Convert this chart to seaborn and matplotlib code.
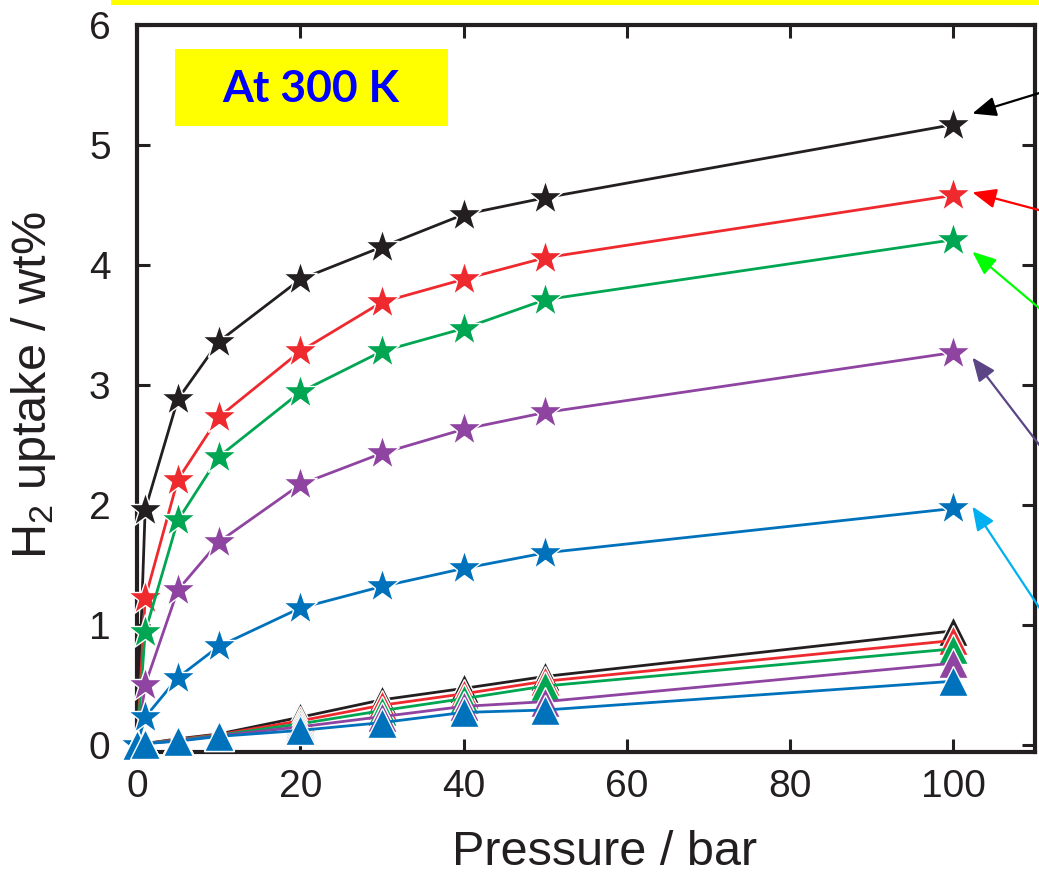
import matplotlib
matplotlib.use("Agg")
import matplotlib.pyplot as plt
import matplotlib.transforms as mtransforms
from matplotlib.patches import Rectangle
import seaborn as sns
import pandas as pd

# ---------------- data ----------------
pressure = [0, 1, 5, 10, 20, 30, 40, 50, 100]

star_black = [0, 1.96, 2.88, 3.36, 3.88, 4.15, 4.42, 4.56, 5.17]
star_red = [0, 1.22, 2.21, 2.73, 3.28, 3.69, 3.88, 4.06, 4.58]
star_green = [0, 0.94, 1.87, 2.40, 2.94, 3.28, 3.47, 3.71, 4.21]
star_purple = [0, 0.50, 1.29, 1.69, 2.17, 2.43, 2.63, 2.77, 3.27]
star_blue = [0, 0.23, 0.56, 0.82, 1.14, 1.32, 1.47, 1.60, 1.97]

tri_black = [0, 0.01, 0.05, 0.09, 0.23, 0.375, 0.47, 0.57, 0.95]
tri_red = [0, 0.01, 0.045, 0.085, 0.20, 0.33, 0.425, 0.53, 0.87]
tri_green = [0, 0.01, 0.04, 0.08, 0.175, 0.285, 0.385, 0.49, 0.80]
tri_purple = [0, 0.01, 0.035, 0.075, 0.15, 0.235, 0.32, 0.36, 0.68]
tri_blue = [0, 0.01, 0.03, 0.07, 0.12, 0.185, 0.27, 0.29, 0.53]

colors = ["#231f20", "#ee2a2e", "#00a651", "#8e44a0", "#0072bc"]
arrow_colors = ["#000000", "#ff0000", "#00ff00", "#5b4585", "#00b0f0"]

x_ticks = [0, 20, 40, 60, 80, 100]
y_ticks = [0, 1, 2, 3, 4, 5, 6]
x_label = "Pressure / bar"
y_label = "H$_2$ uptake / wt%"
box_text = "At 300 K"

# ---------------- style ----------------
sns.set_theme(style="ticks")
plt.rcParams["font.family"] = ["Liberation Sans", "DejaVu Sans"]
plt.rcParams["mathtext.default"] = "regular"

fig = plt.figure(figsize=(10.39, 8.76), dpi=100)
ax = fig.add_axes([137 / 1039, 1 - 752 / 876, (1035 - 137) / 1039, (752 - 25) / 876])

stars = [star_black, star_red, star_green, star_purple, star_blue]
tris = [tri_black, tri_red, tri_green, tri_purple, tri_blue]

for vals, c in zip(stars, colors):
    df = pd.DataFrame({"p": pressure, "u": vals})
    sns.lineplot(data=df, x="p", y="u", color=c, marker="*", markersize=26,
                 markeredgecolor="white", markeredgewidth=1.0, linewidth=2.0,
                 ax=ax, clip_on=False, zorder=3)

for vals, c in zip(tris, colors):
    df = pd.DataFrame({"p": pressure, "u": vals})
    sns.lineplot(data=df, x="p", y="u", color=c, marker="^", markersize=22,
                 markeredgecolor="white", markeredgewidth=1.0, linewidth=2.0,
                 ax=ax, clip_on=False, zorder=3)

ax.set_xlim(0, 110)
ax.set_ylim(-0.06, 6)
ax.set_xticks(x_ticks)
ax.set_yticks(y_ticks)
ax.tick_params(direction="in", length=9.5, width=2.2, top=True, right=True,
               labelsize=28, colors="#231f20", labelcolor="#231f20")
ax.tick_params(axis="y", pad=19)
ax.tick_params(axis="x", pad=12)
for s in ax.spines.values():
    s.set_linewidth(3)
    s.set_color("#231f20")
    s.set_zorder(2)

ax.set_xlabel(x_label, fontsize=35, color="#231f20")
ax.set_ylabel(y_label, fontsize=35, color="#231f20")
ax.xaxis.set_label_coords(0.521, -0.107)
ax.yaxis.set_label_coords(-0.088, 0.505)

# ---------------- annotations ----------------
# yellow strip at top of figure
fig.patches.append(Rectangle((111 / 1039, 1 - 5 / 876), 1 - 111 / 1039, 5 / 876,
                             transform=fig.transFigure, facecolor="#ffff00",
                             edgecolor="none", zorder=0))
# yellow title box
fig.patches.append(Rectangle((175 / 1039, 1 - 126 / 876), (448 - 175) / 1039, (126 - 49) / 876,
                             transform=fig.transFigure, facecolor="#ffff00",
                             edgecolor="none", zorder=1))
fig.text(311 / 1039, 1 - 89 / 876, box_text, ha="center", va="center",
         fontsize=32, fontweight="bold", color="#0000ff",
         family=["Lato", "Open Sans", "DejaVu Sans"])

# arrows pointing at the 100-bar stars
tip_offsets = [(19, 11), (19, 3), (19, -12), (19, -5), (19, 2)]
tail_px = [(1060, 86.7), (1060, 215.6), (1060, 325.6), (1060, 472), (1060, 639)]
for vals, c, off, tail in zip(stars, arrow_colors, tip_offsets, tail_px):
    tr = mtransforms.offset_copy(ax.transData, fig=fig, x=off[0], y=off[1], units="dots")
    ax.annotate("", xy=(pressure[-1], vals[-1]), xycoords=tr,
                xytext=(tail[0], 876 - tail[1]), textcoords="figure pixels",
                arrowprops=dict(arrowstyle="-|>,head_length=1.2,head_width=0.5",
                                color=c, lw=1.6, shrinkA=0, shrinkB=0),
                annotation_clip=False)

fig.savefig("out.png", dpi=100)
